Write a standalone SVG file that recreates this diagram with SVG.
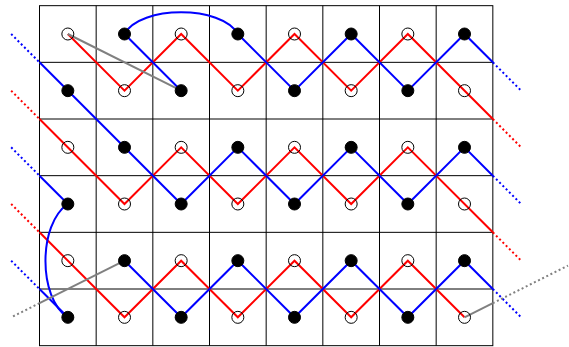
<svg xmlns="http://www.w3.org/2000/svg" width="569" height="347" viewBox="0 0 569 347">
<style>
.grid{fill:none;stroke:#000;stroke-width:1}
.r{fill:none;stroke:#ff0000;stroke-width:2}
.b{fill:none;stroke:#0000ff;stroke-width:2}
.g{fill:none;stroke:#808080;stroke-width:2}
.dot{stroke-dasharray:2 2.6}
.o{fill:none;stroke:#000;stroke-width:1}
.f{fill:#000;stroke:#000;stroke-width:1}
</style>
<rect width="569" height="347" fill="#fff"/>
<g id="grid" class="grid">
<rect x="39.5" y="5.67" width="453.33" height="340"/>
<path d="M96.17,5.67V345.67M152.83,5.67V345.67M209.5,5.67V345.67M266.17,5.67V345.67M322.83,5.67V345.67M379.5,5.67V345.67M436.17,5.67V345.67"/>
<path d="M39.5,62.33H492.83M39.5,119H492.83M39.5,175.67H492.83M39.5,232.33H492.83M39.5,289H492.83"/>
</g>
<g id="connectors">
<path class="r" d="M67.83,34 L124.5,90.67 L181.17,34 L237.83,90.67 L294.5,34 L351.17,90.67 L407.83,34 L492.83,119"/>
<path class="r dot" d="M492.83,119 L521.17,147.33"/>
<path class="r dot" d="M11.17,90.67 L39.5,119"/>
<path class="r" d="M39.5,119 L124.5,204 L181.17,147.33 L237.83,204 L294.5,147.33 L351.17,204 L407.83,147.33 L492.83,232.33"/>
<path class="r dot" d="M492.83,232.33 L521.17,260.67"/>
<path class="r dot" d="M11.17,204 L39.5,232.33"/>
<path class="r" d="M39.5,232.33 L124.5,317.33 L181.17,260.67 L237.83,317.33 L294.5,260.67 L351.17,317.33 L407.83,260.67 L464.5,317.33"/>
<path class="b dot" d="M11.17,34 L39.5,62.33"/>
<path class="b" d="M39.5,62.33 L181.17,204 L237.83,147.33 L294.5,204 L351.17,147.33 L407.83,204 L464.5,147.33 L492.83,175.67"/>
<path class="b dot" d="M492.83,175.67 L521.17,204"/>
<path class="b" d="M124.5,34 L181.17,90.67"/>
<path class="b" d="M124.5,34 C140,5 222,5 237.83,34"/>
<path class="b" d="M237.83,34 L294.5,90.67 L351.17,34 L407.83,90.67 L464.5,34 L492.83,62.33"/>
<path class="b dot" d="M492.83,62.33 L521.17,90.67"/>
<path class="b dot" d="M11.17,147.33 L39.5,175.67"/>
<path class="b" d="M39.5,175.67 L67.83,204"/>
<path class="b" d="M67.83,204 C38,224 38,298 67.83,317.33"/>
<path class="b dot" d="M11.17,260.67 L39.5,289"/>
<path class="b" d="M39.5,289 L67.83,317.33"/>
<path class="b" d="M124.5,260.67 L181.17,317.33 L237.83,260.67 L294.5,317.33 L351.17,260.67 L407.83,317.33 L464.5,260.67 L492.83,289"/>
<path class="b dot" d="M492.83,289 L521.17,317.33"/>
<path class="g" d="M67.83,34 L181.17,90.67"/>
<path class="g" d="M124.5,260.67 L39.5,303.17"/>
<path class="g dot" d="M39.5,303.17 L11.17,317.33"/>
<path class="g" d="M464.5,317.33 L492.83,303.17"/>
<path class="g dot" d="M492.83,303.17 L568,265.6"/>
</g>
<g id="nodes">
<g id="r0"><circle class="o" cx="67.83" cy="34" r="6"/><circle class="f" cx="124.5" cy="34" r="6"/><circle class="o" cx="181.17" cy="34" r="6"/><circle class="f" cx="237.83" cy="34" r="6"/><circle class="o" cx="294.5" cy="34" r="6"/><circle class="f" cx="351.17" cy="34" r="6"/><circle class="o" cx="407.83" cy="34" r="6"/><circle class="f" cx="464.5" cy="34" r="6"/></g>
<g id="r1"><circle class="f" cx="67.83" cy="90.67" r="6"/><circle class="o" cx="124.5" cy="90.67" r="6"/><circle class="f" cx="181.17" cy="90.67" r="6"/><circle class="o" cx="237.83" cy="90.67" r="6"/><circle class="f" cx="294.5" cy="90.67" r="6"/><circle class="o" cx="351.17" cy="90.67" r="6"/><circle class="f" cx="407.83" cy="90.67" r="6"/><circle class="o" cx="464.5" cy="90.67" r="6"/></g>
<g id="r2"><circle class="o" cx="67.83" cy="147.33" r="6"/><circle class="f" cx="124.5" cy="147.33" r="6"/><circle class="o" cx="181.17" cy="147.33" r="6"/><circle class="f" cx="237.83" cy="147.33" r="6"/><circle class="o" cx="294.5" cy="147.33" r="6"/><circle class="f" cx="351.17" cy="147.33" r="6"/><circle class="o" cx="407.83" cy="147.33" r="6"/><circle class="f" cx="464.5" cy="147.33" r="6"/></g>
<g id="r3"><circle class="f" cx="67.83" cy="204" r="6"/><circle class="o" cx="124.5" cy="204" r="6"/><circle class="f" cx="181.17" cy="204" r="6"/><circle class="o" cx="237.83" cy="204" r="6"/><circle class="f" cx="294.5" cy="204" r="6"/><circle class="o" cx="351.17" cy="204" r="6"/><circle class="f" cx="407.83" cy="204" r="6"/><circle class="o" cx="464.5" cy="204" r="6"/></g>
<g id="r4"><circle class="o" cx="67.83" cy="260.67" r="6"/><circle class="f" cx="124.5" cy="260.67" r="6"/><circle class="o" cx="181.17" cy="260.67" r="6"/><circle class="f" cx="237.83" cy="260.67" r="6"/><circle class="o" cx="294.5" cy="260.67" r="6"/><circle class="f" cx="351.17" cy="260.67" r="6"/><circle class="o" cx="407.83" cy="260.67" r="6"/><circle class="f" cx="464.5" cy="260.67" r="6"/></g>
<g id="r5"><circle class="f" cx="67.83" cy="317.33" r="6"/><circle class="o" cx="124.5" cy="317.33" r="6"/><circle class="f" cx="181.17" cy="317.33" r="6"/><circle class="o" cx="237.83" cy="317.33" r="6"/><circle class="f" cx="294.5" cy="317.33" r="6"/><circle class="o" cx="351.17" cy="317.33" r="6"/><circle class="f" cx="407.83" cy="317.33" r="6"/><circle class="o" cx="464.5" cy="317.33" r="6"/></g>
</g>
</svg>
